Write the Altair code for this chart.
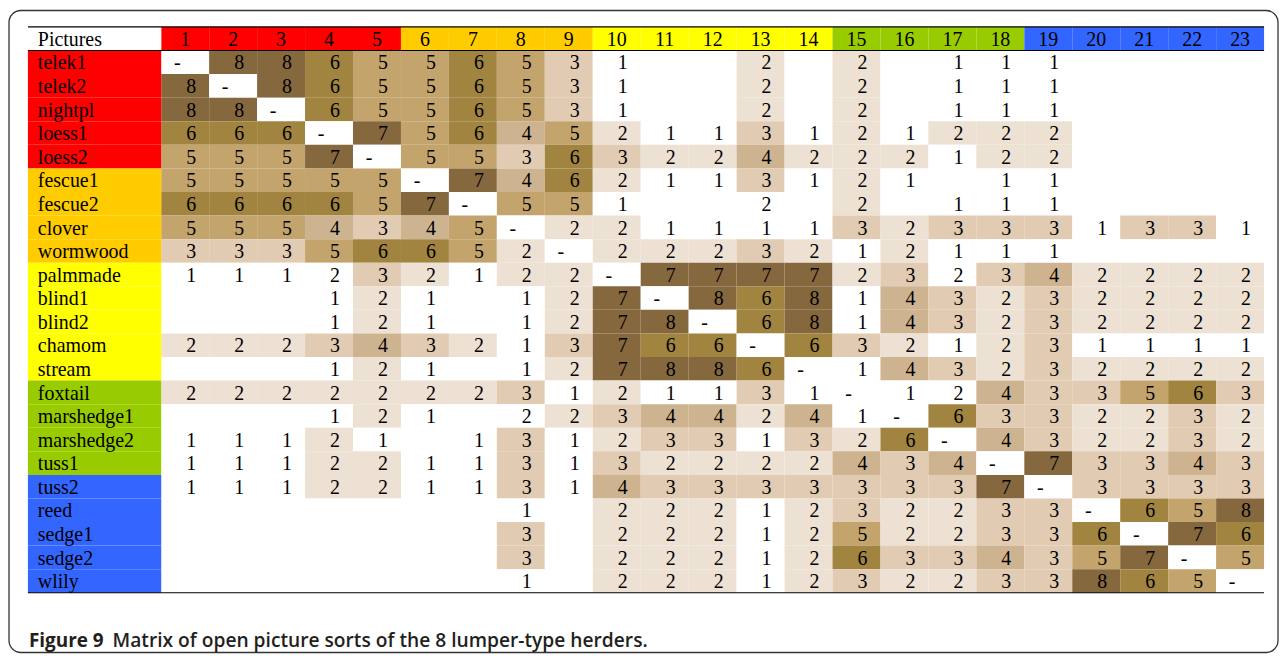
import altair as alt
import pandas as pd

# ---------------- data ----------------
names = ["telek1", "telek2", "nightpl", "loess1", "loess2",
         "fescue1", "fescue2", "clover", "wormwood",
         "palmmade", "blind1", "blind2", "chamom", "stream",
         "foxtail", "marshedge1", "marshedge2", "tuss1",
         "tuss2", "reed", "sedge1", "sedge2", "wlily"]

columns = [str(i) for i in range(1, 24)]

group_sizes = [5, 4, 5, 4, 5]
group_colors = ["#FF0000", "#FFCC00", "#FFFF00", "#99CC00", "#3366FF"]

matrix = [
    ["-", "8", "8", "6", "5", "5", "6", "5", "3", "1", "", "", "2", "", "2", "", "1", "1", "1", "", "", "", ""],
    ["8", "-", "8", "6", "5", "5", "6", "5", "3", "1", "", "", "2", "", "2", "", "1", "1", "1", "", "", "", ""],
    ["8", "8", "-", "6", "5", "5", "6", "5", "3", "1", "", "", "2", "", "2", "", "1", "1", "1", "", "", "", ""],
    ["6", "6", "6", "-", "7", "5", "6", "4", "5", "2", "1", "1", "3", "1", "2", "1", "2", "2", "2", "", "", "", ""],
    ["5", "5", "5", "7", "-", "5", "5", "3", "6", "3", "2", "2", "4", "2", "2", "2", "1", "2", "2", "", "", "", ""],
    ["5", "5", "5", "5", "5", "-", "7", "4", "6", "2", "1", "1", "3", "1", "2", "1", "", "1", "1", "", "", "", ""],
    ["6", "6", "6", "6", "5", "7", "-", "5", "5", "1", "", "", "2", "", "2", "", "1", "1", "1", "", "", "", ""],
    ["5", "5", "5", "4", "3", "4", "5", "-", "2", "2", "1", "1", "1", "1", "3", "2", "3", "3", "3", "1", "3", "3", "1"],
    ["3", "3", "3", "5", "6", "6", "5", "2", "-", "2", "2", "2", "3", "2", "1", "2", "1", "1", "1", "", "", "", ""],
    ["1", "1", "1", "2", "3", "2", "1", "2", "2", "-", "7", "7", "7", "7", "2", "3", "2", "3", "4", "2", "2", "2", "2"],
    ["", "", "", "1", "2", "1", "", "1", "2", "7", "-", "8", "6", "8", "1", "4", "3", "2", "3", "2", "2", "2", "2"],
    ["", "", "", "1", "2", "1", "", "1", "2", "7", "8", "-", "6", "8", "1", "4", "3", "2", "3", "2", "2", "2", "2"],
    ["2", "2", "2", "3", "4", "3", "2", "1", "3", "7", "6", "6", "-", "6", "3", "2", "1", "2", "3", "1", "1", "1", "1"],
    ["", "", "", "1", "2", "1", "", "1", "2", "7", "8", "8", "6", "-", "1", "4", "3", "2", "3", "2", "2", "2", "2"],
    ["2", "2", "2", "2", "2", "2", "2", "3", "1", "2", "1", "1", "3", "1", "-", "1", "2", "4", "3", "3", "5", "6", "3"],
    ["", "", "", "1", "2", "1", "", "2", "2", "3", "4", "4", "2", "4", "1", "-", "6", "3", "3", "2", "2", "3", "2"],
    ["1", "1", "1", "2", "1", "", "1", "3", "1", "2", "3", "3", "1", "3", "2", "6", "-", "4", "3", "2", "2", "3", "2"],
    ["1", "1", "1", "2", "2", "1", "1", "3", "1", "3", "2", "2", "2", "2", "4", "3", "4", "-", "7", "3", "3", "4", "3"],
    ["1", "1", "1", "2", "2", "1", "1", "3", "1", "4", "3", "3", "3", "3", "3", "3", "3", "7", "-", "3", "3", "3", "3"],
    ["", "", "", "", "", "", "", "1", "", "2", "2", "2", "1", "2", "3", "2", "2", "3", "3", "-", "6", "5", "8"],
    ["", "", "", "", "", "", "", "3", "", "2", "2", "2", "1", "2", "5", "2", "2", "3", "3", "6", "-", "7", "6"],
    ["", "", "", "", "", "", "", "3", "", "2", "2", "2", "1", "2", "6", "3", "3", "4", "3", "5", "7", "-", "5"],
    ["", "", "", "", "", "", "", "1", "", "2", "2", "2", "1", "2", "3", "2", "2", "3", "3", "8", "6", "5", "-"],
]

# cells printed without shading in the original
unshaded = [("palmmade", 4), ("palmmade", 17), ("foxtail", 17),
            ("marshedge1", 8), ("fescue2", 13)]

shade_of_value = {"2": 1, "3": 2, "4": 3, "5": 4, "6": 5, "7": 6, "8": 6}
shade_colors = ["#FFFFFF", "#EDE1D3", "#E2CBB3", "#CDB390",
                "#C3A46C", "#A08440", "#86683F"]

header_label = "Pictures"
caption_bold = "Figure 9"
caption_rest = "Matrix of open picture sorts of the 8 lumper-type herders."

# ---------------- build tables ----------------
LABEL_W = 2.78  # width of the label column, in cell units
serif = "Liberation Serif"
FS = 20

groups = []
for g, n in enumerate(group_sizes):
    groups += [g] * n

cell_rows = []
for r, (name, row) in enumerate(zip(names, matrix), start=1):
    for c, v in enumerate(row, start=1):
        lvl = 0 if (name, c) in unshaded else shade_of_value.get(v, 0)
        cell_rows.append(dict(x0=c - 1, x1=c, xc=c - 0.5, y0=r, y1=r + 1, yc=r + 0.5,
                              val=v, fill=shade_colors[lvl]))
cells = pd.DataFrame(cell_rows)

header = pd.DataFrame([dict(x0=c - 1, x1=c, xc=c - 0.5, y0=0, y1=1, yc=0.5,
                            txt=col, fill=group_colors[groups[c - 1]])
                       for c, col in enumerate(columns, start=1)])

labels = pd.DataFrame([dict(x0=-LABEL_W, x1=0, y0=0, y1=1, yc=0.5, txt=header_label, fill="#FFFFFF")] +
                      [dict(x0=-LABEL_W, x1=0, y0=r, y1=r + 1, yc=r + 0.5, txt=n,
                            fill=group_colors[groups[r - 1]])
                       for r, n in enumerate(names, start=1)])

lines = pd.DataFrame(dict(x0=[-LABEL_W] * 3, x1=[len(columns)] * 3, y=[0, 1, len(names) + 1]))

xs = alt.Scale(domain=[-LABEL_W, len(columns)], nice=False, zero=False)
ys = alt.Scale(domain=[0, len(names) + 1], reverse=True, nice=False, zero=False)


def rects(df):
    return alt.Chart(df).mark_rect(strokeWidth=0).encode(
        x=alt.X("x0:Q", scale=xs, axis=None), x2="x1:Q",
        y=alt.Y("y0:Q", scale=ys, axis=None), y2="y1:Q",
        fill=alt.Fill("fill:N", scale=None))


DY = 7.2
label_text = alt.Chart(labels).mark_text(font=serif, fontSize=FS, align="left", baseline="alphabetic",
                                         dx=10, dy=DY, color="#000000").encode(
    x=alt.X("x0:Q", scale=xs, axis=None), y=alt.Y("yc:Q", scale=ys, axis=None), text="txt:N")

header_text = alt.Chart(header).mark_text(font=serif, fontSize=FS, align="center", baseline="alphabetic",
                                          dy=DY, color="#000000").encode(
    x=alt.X("xc:Q", scale=xs, axis=None), y=alt.Y("yc:Q", scale=ys, axis=None), text="txt:N")

num_text = alt.Chart(cells[~cells.val.isin(["", "-"])]).mark_text(
    font=serif, fontSize=FS, align="center", baseline="alphabetic", dx=6, dy=DY, color="#000000").encode(
    x=alt.X("xc:Q", scale=xs, axis=None), y=alt.Y("yc:Q", scale=ys, axis=None), text="val:N")

dash_text = alt.Chart(cells[cells.val == "-"]).mark_text(
    font=serif, fontSize=FS, align="center", baseline="alphabetic", dx=-8, dy=DY, color="#000000").encode(
    x=alt.X("xc:Q", scale=xs, axis=None), y=alt.Y("yc:Q", scale=ys, axis=None), text="val:N")

rules = alt.Chart(lines).mark_rule(color="#000000", strokeWidth=1.2).encode(
    x=alt.X("x0:Q", scale=xs, axis=None), x2="x1:Q", y=alt.Y("y:Q", scale=ys, axis=None))

one = pd.DataFrame({"k": [0]})
border = alt.Chart(one).mark_rect(filled=False, stroke="#333333", strokeWidth=1.3, cornerRadius=12).encode(
    x=alt.value(-19), x2=alt.value(1256), y=alt.value(-16.5), y2=alt.value(628.5))

cap1 = alt.Chart(one).mark_text(text=caption_bold, font="Open Sans", fontSize=19, fontWeight="bold",
                                align="left", baseline="alphabetic", color="#231F20").encode(
    x=alt.value(1), y=alt.value(623))
cap2 = alt.Chart(one).mark_text(text=caption_rest, font="Open Sans", fontSize=19.3, fontWeight=600,
                                align="left", baseline="alphabetic", color="#231F20").encode(
    x=alt.value(85), y=alt.value(623))

chart = alt.layer(
    rects(cells), rects(header), rects(labels), rules,
    label_text, header_text, num_text, dash_text,
    border, cap1, cap2
).properties(
    width=1242, height=568.5,
    padding={"left": 20, "top": 17.5, "right": 15, "bottom": 62},
    autosize=alt.AutoSizeParams(type="none"),
).configure_view(stroke=None)

chart.save("out.html", embed_options={"renderer": "svg", "actions": False})
